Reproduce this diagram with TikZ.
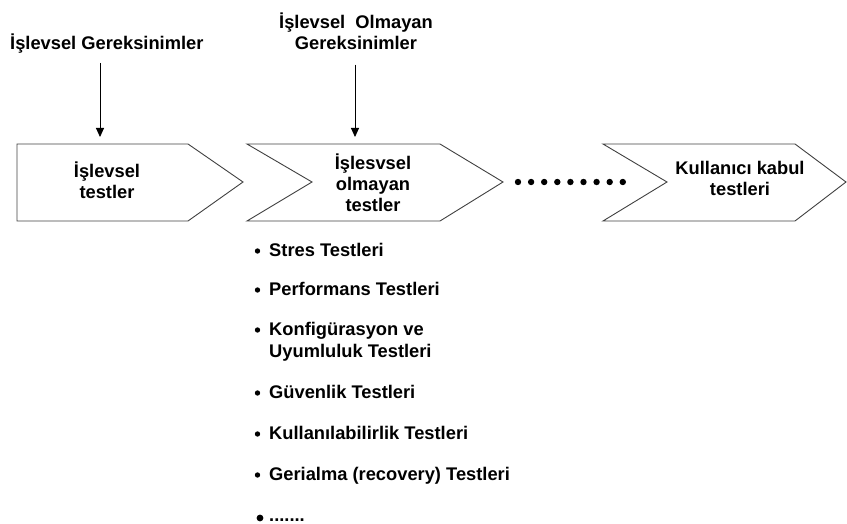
\documentclass[tikz,border=0pt]{standalone}
\usepackage{fontspec}
\setmainfont{Liberation Sans}
\usetikzlibrary{arrows.meta}
\begin{document}
\begin{tikzpicture}[x=1pt,y=-1pt,
  lbl/.style={inner sep=0pt,font=\fontsize{18.3}{21}\selectfont\bfseries,align=center},
  item/.style={inner sep=0pt,anchor=base west,font=\fontsize{18.3}{22}\selectfont\bfseries,align=left},
  chev/.style={draw=black!75,line width=0.9pt,line join=miter},
  arr/.style={draw=black,line width=0.9pt,-{Triangle[width=8pt,length=9pt]}},
  dot/.style={fill=black}]
\useasboundingbox (0,0) rectangle (847,524);

% requirement labels
\node[lbl,anchor=base west] (req1) at (10,50) {İşlevsel Gereksinimler};
\node[lbl] (req2) at (356,31) {İşlevsel~~Olmayan\\Gereksinimler};

% chevron stages
\draw[chev] (17,144) -- (188,144) -- (243,182) -- (188,221) -- (17,221) -- cycle;
\draw[chev] (247,144) -- (440,144) -- (503,182) -- (440,221) -- (247,221) -- (312,182) -- cycle;
\draw[chev] (603,144) -- (795,144) -- (846,182) -- (795,221) -- (603,221) -- (667,182) -- cycle;
\coordinate (top1) at (100,144);
\coordinate (top2) at (355,144);

\node[lbl] (box1) at (107,180) {İşlevsel\\testler};
\node[lbl] (box2) at (373,183) {İşlesvsel\\olmayan\\testler};
\node[lbl] (box3) at (740,178) {Kullanıcı kabul\\testleri};

% requirement arrows
\draw[arr,shorten <=9pt,shorten >=7pt] (req1.south -| top1) -- (top1);
\draw[arr,shorten <=15pt,shorten >=7pt] (req2.south -| top2) -- (top2);

% dotted continuation between stages
\foreach \i in {0,...,8} \fill[dot] (518+13.1*\i,182) circle (3.2);

% list of non-functional test types
\foreach \y in {256,295,335,398,439,480}{
  \fill[dot] (257.5,\y-5) circle (2.7);
}
\node[item] (t1) at (269,256) {Stres Testleri};
\node[item] (t2) at (269,295) {Performans Testleri};
\node[item] (t3) at (269,335) {Konfigürasyon ve};
\node[item] (t3b) at (269,357) {Uyumluluk Testleri};
\node[item] (t4) at (269,398) {Güvenlik Testleri};
\node[item] (t5) at (269,439) {Kullanılabilirlik Testleri};
\node[item] (t6) at (269,480) {Gerialma (recovery) Testleri};
\fill[dot] (260,518) circle (3.4);
\node[item] (t7) at (269,521) {.......};
\end{tikzpicture}
\end{document}
